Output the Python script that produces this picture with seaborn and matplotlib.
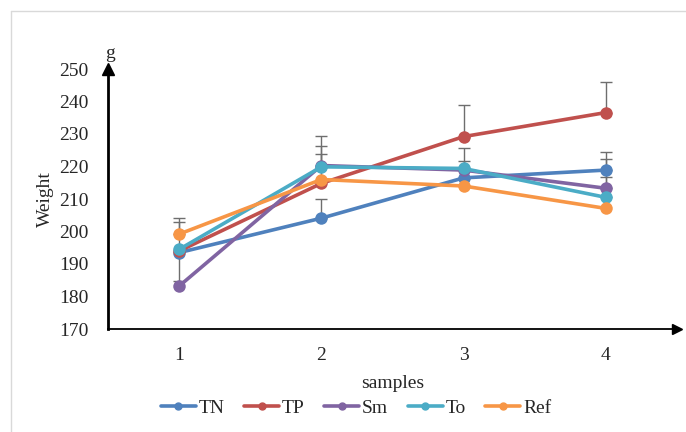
import matplotlib
matplotlib.use("Agg")
import matplotlib.pyplot as plt
import seaborn as sns
import pandas as pd
import numpy as np
from matplotlib.lines import Line2D

# Data
samples = [1, 2, 3, 4]
series = ["TN", "TP", "Sm", "To", "Ref"]
tn = [193.5, 204.1, 216.5, 218.9]
tp = [194.0, 214.8, 229.2, 236.6]
sm = [183.2, 220.3, 218.9, 213.3]
to = [194.5, 219.9, 219.4, 210.5]
ref = [199.2, 216.0, 214.0, 207.1]

# upper / lower error values (only the visible ones)
tn_up = [0, 5.8, 5.3, 5.7]
tp_up = [0, 0, 9.7, 9.5]
sm_up = [0, 6.0, 0, 9.0]
to_up = [9.6, 9.5, 6.2, 6.2]
ref_up = [3.8, 7.8, 0, 0]
to_lo = [9.6, 0, 0, 0]

colors = ["#4F81BD", "#C0504D", "#8064A2", "#4BACC6", "#F79646"]

values = {"TN": tn, "TP": tp, "Sm": sm, "To": to, "Ref": ref}
ups = {"TN": tn_up, "TP": tp_up, "Sm": sm_up, "To": to_up, "Ref": ref_up}
lows = {"To": to_lo}

df = pd.DataFrame([
    {"sample": s, "Weight": v, "series": name}
    for name in series for s, v in zip(samples, values[name])
])

sns.set_style("white")
plt.rcParams["font.family"] = ["Liberation Serif", "DejaVu Serif"]

fig = plt.figure(figsize=(6.86, 4.32), dpi=100)
ax = fig.add_axes([108 / 686, 1 - 329 / 432, (677 - 108) / 686, (329 - 69) / 432])

# error bars first (grey, behind lines)
for name in series:
    lo = lows.get(name, [0] * 4)
    up = ups[name]
    for x, y, l, u in zip(samples, values[name], lo, up):
        if u == 0 and l == 0:
            continue
        ax.errorbar([x], [y], yerr=[[l], [u]], fmt="none", ecolor="#6E6E6E",
                    elinewidth=1.0, capsize=4, capthick=1.0, zorder=1)

sns.lineplot(data=df, x="sample", y="Weight", hue="series", hue_order=series,
             palette=colors, marker="o", markersize=9, markeredgewidth=0,
             linewidth=2.6, legend=False, ax=ax, zorder=3)

ax.set_xlim(0.5, 4.5)
ax.set_ylim(170, 250)
ax.set_yticks(np.arange(170, 251, 10))
ax.set_xticks(samples)
ax.set_xticks([0.5, 1.5, 2.5, 3.5], minor=True)
ax.tick_params(axis="x", which="major", length=0, labelsize=14, pad=13)
ax.tick_params(axis="x", which="minor", length=4, width=1, direction="out", color="black")
ax.tick_params(axis="y", length=0, labelsize=14, pad=14)

for side in ["top", "right"]:
    ax.spines[side].set_visible(False)
ax.spines["left"].set_linewidth(2.0)
ax.spines["bottom"].set_linewidth(1.3)
ax.spines["left"].set_color("black")
ax.spines["bottom"].set_color("black")

# axis arrows
ax.plot(1, 0, ">k", transform=ax.transAxes, clip_on=False, markersize=7)
ax.plot(0, 1, "^k", transform=ax.transAxes, clip_on=False, markersize=8)

ax.set_xlabel("samples", fontsize=14, labelpad=8)
ax.set_ylabel("Weight", fontsize=14, labelpad=4)
ax.text(110 / 686, 1 - 53 / 432, "g", transform=fig.transFigure, fontsize=14,
        ha="center", va="center")

handles = [Line2D([0], [0], color=c, linewidth=2.6, marker="o", markersize=5)
           for c in colors]
fig.legend(handles, series, loc="center", bbox_to_anchor=(356 / 686, 1 - 408 / 432),
           ncol=5, frameon=False, fontsize=14, handlelength=1.8, columnspacing=1.0,
           handletextpad=0.15)

# outer light frame
fig.add_artist(plt.Line2D([11 / 686, 11 / 686], [0, 1 - 11 / 432], color="#D9D9D9",
                          linewidth=1, transform=fig.transFigure))
fig.add_artist(plt.Line2D([11 / 686, 1], [1 - 11 / 432, 1 - 11 / 432], color="#D9D9D9",
                          linewidth=1, transform=fig.transFigure))

fig.savefig("out.png", dpi=100)
